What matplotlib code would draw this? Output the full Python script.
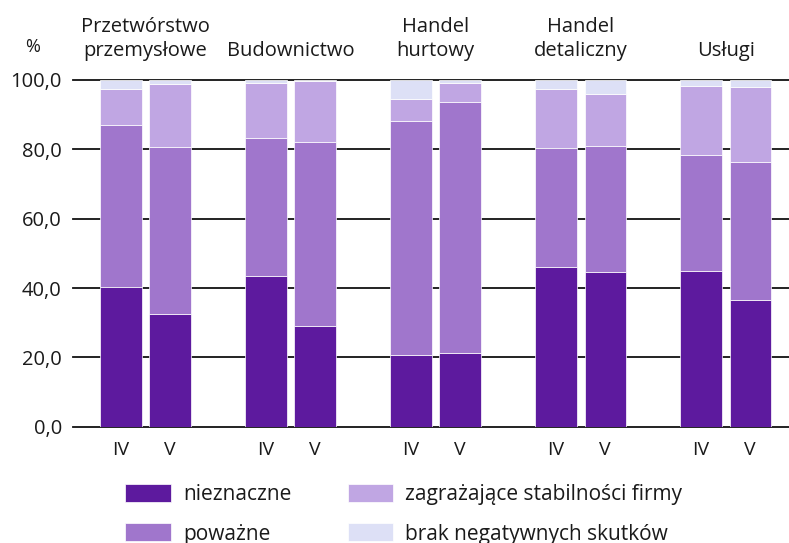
import numpy as np
import matplotlib
matplotlib.use("Agg")
import matplotlib.pyplot as plt

# categories and months
sectors = ["Przetwórstwo\nprzemysłowe", "Budownictwo", "Handel\nhurtowy", "Handel\ndetaliczny", "Usługi"]
months = ["IV", "V"]

# shares (%) per sector, order: [IV, V] for each sector
nieznaczne = [40.2, 32.6, 43.5, 29.1, 20.7, 21.3, 46.1, 44.5, 44.9, 36.5]
powazne = [46.8, 48.2, 39.9, 53.1, 67.6, 72.4, 34.2, 36.6, 33.5, 39.7]
zagrazajace = [10.3, 17.9, 15.6, 17.5, 6.2, 5.4, 17.1, 15.0, 20.0, 21.9]
brak = [2.7, 1.3, 1.0, 0.3, 5.5, 0.9, 2.6, 3.9, 1.6, 1.9]

series_labels = ["nieznaczne", "poważne", "zagrażające stabilności firmy", "brak negatywnych skutków"]
colors = ["#5D1A9E", "#A076CC", "#C0A6E3", "#DDE0F6"]

plt.rcParams["font.family"] = ["Open Sans", "DejaVu Sans"]
txt = "#1a1a1a"

fig = plt.figure(figsize=(7.89, 5.43), dpi=100)
ax = fig.add_axes([0.0925, 0.2142, 0.9075, 0.6385])

n = len(sectors)
offset = 0.17
width = 0.286
pos = []
for i in range(n):
    pos += [i - offset, i + offset]
pos = np.array(pos)

bottom = np.zeros(len(pos))
handles = []
for vals, col, lab in zip([nieznaczne, powazne, zagrazajace, brak], colors, series_labels):
    vals = np.array(vals)
    b = ax.bar(pos, vals, width, bottom=bottom, color=col, edgecolor="white",
               linewidth=0.5, label=lab, zorder=3)
    handles.append(b)
    bottom += vals

yticks = np.arange(0, 101, 20)
for y in yticks:
    ax.axhline(y, color="#111111", linewidth=1.3, zorder=1, clip_on=False)

ax.set_xlim(-0.5, 4.437)
ax.set_ylim(0, 100)
ax.set_yticks(yticks)
ax.set_yticklabels([f"{y:.1f}".replace(".", ",") for y in yticks], fontsize=14.5, color=txt)
ax.set_xticks(pos)
ax.set_xticklabels(months * n, fontsize=14, color=txt)
ax.tick_params(axis="both", length=0)
ax.tick_params(axis="x", pad=10)
ax.tick_params(axis="y", pad=8)
for s in ax.spines.values():
    s.set_visible(False)

for i, s in enumerate(sectors):
    ax.text(i, 1.055, s, transform=ax.get_xaxis_transform(), ha="center", va="bottom",
            fontsize=14.5, color=txt, linespacing=1.25)

fig.text(33 / 789, 1 - 47 / 543, "%", ha="center", va="center", fontsize=13, color=txt)

fig.legend(handles=handles, labels=series_labels, ncol=2, loc="upper left",
           bbox_to_anchor=(125 / 789, 1 - 484 / 543), frameon=False, fontsize=15,
           handlelength=2.2, handleheight=0.96, handletextpad=0.58, columnspacing=2.7,
           labelspacing=0.87, labelcolor=txt, borderaxespad=0, borderpad=0)

fig.savefig("out.png", dpi=100)
